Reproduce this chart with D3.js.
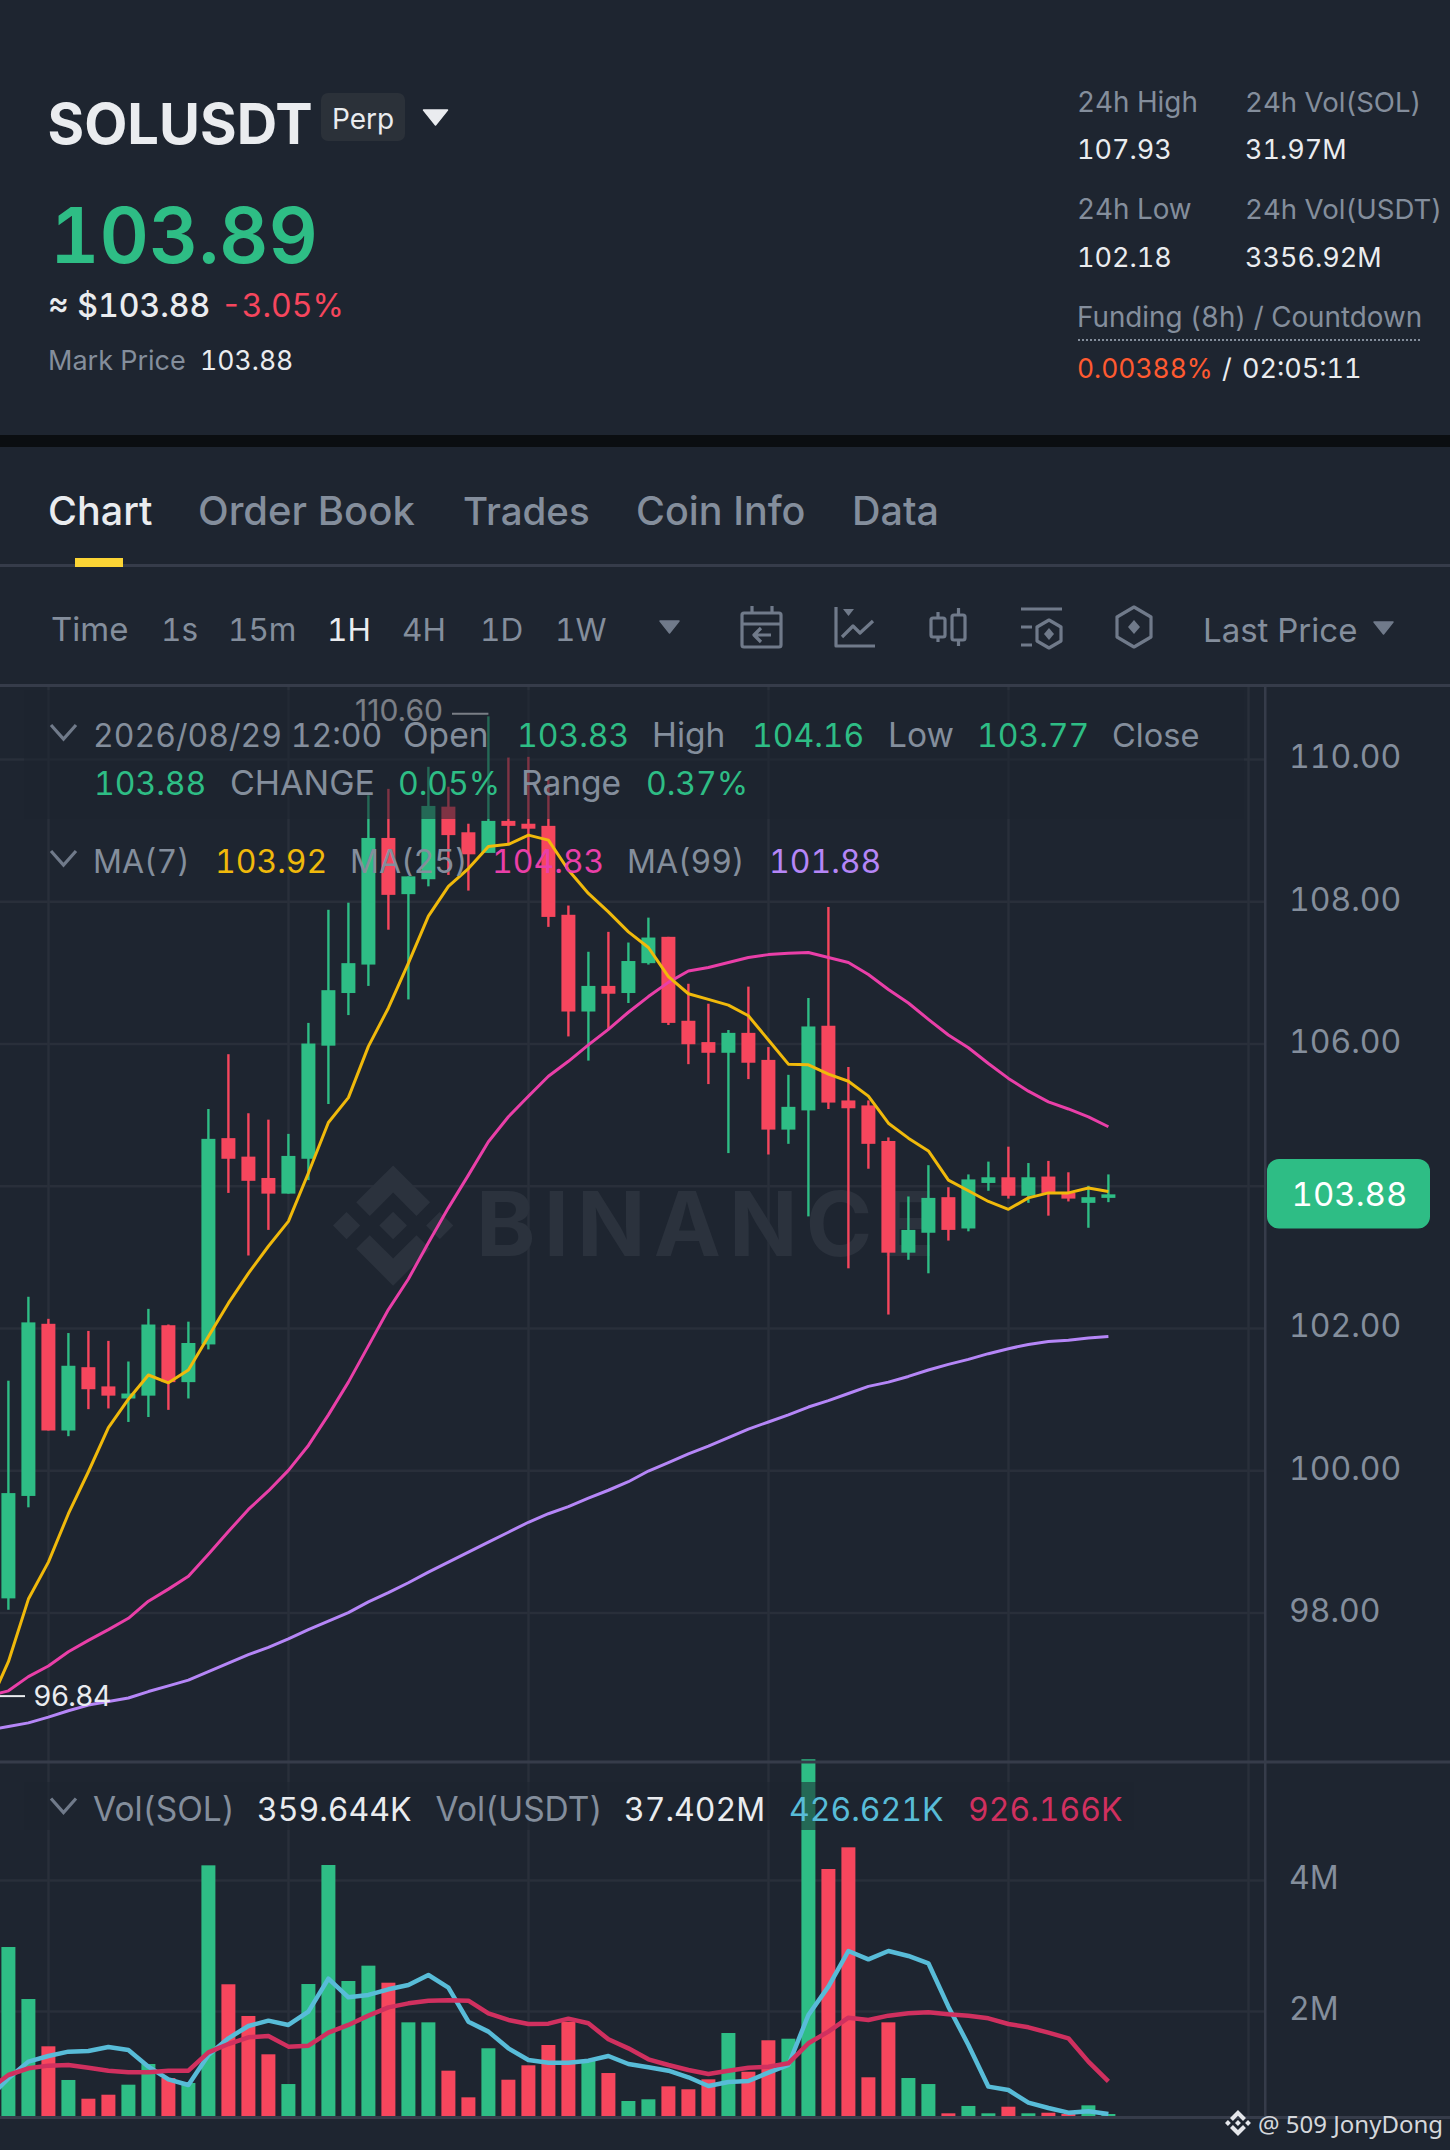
<!DOCTYPE html>
<html>
<head>
<meta charset="utf-8">
<script src="https://cdn.jsdelivr.net/npm/d3@7/dist/d3.min.js"></script>
<style>
html,body{margin:0;padding:0;background:#1e2530;}
svg{display:block;}
text{font-family:Inter,"Noto Sans",sans-serif;font-feature-settings:"tnum";}
</style>
</head>
<body>
<svg id="c" width="1450" height="2150"></svg>
<script>
const opens=[98.20,99.64,102.06,100.56,101.45,101.18,101.01,101.05,102.04,101.24,
101.77,104.67,104.41,104.11,103.89,104.38,105.97,106.71,107.11,108.89,
108.10,108.31,109.33,108.97,108.68,109.13,109.09,109.06,107.81,106.45,
106.81,106.71,107.13,107.50,106.32,106.02,105.87,106.15,105.77,104.79,
105.06,106.25,105.20,105.13,104.63,103.06,103.34,103.84,103.40,104.04,
104.12,103.86,104.13,103.90,103.76,103.83];
const closes=[99.68,102.08,100.56,101.47,101.14,101.05,101.08,102.05,101.24,101.79,
104.66,104.38,104.07,103.89,104.42,106.00,106.75,107.13,108.89,108.09,
108.35,109.34,108.93,108.66,109.13,109.06,109.02,107.78,106.45,106.81,
106.70,107.16,107.49,106.29,105.99,105.87,106.15,105.73,104.79,105.11,
106.24,105.17,105.09,104.59,103.06,103.38,103.83,103.38,104.09,104.12,
103.86,104.12,103.90,103.82,103.84,103.88];
const highs=[101.26,102.44,102.13,101.93,101.96,101.82,101.53,102.27,102.05,102.09,
105.08,105.85,105.02,104.93,104.73,106.29,107.88,107.98,109.49,109.58,
108.35,109.89,109.61,109.09,110.60,110.02,110.03,109.71,107.94,107.29,
107.57,107.42,107.77,107.50,106.84,106.56,106.19,106.80,105.95,105.56,
106.64,107.92,105.67,105.20,104.68,103.85,104.29,103.98,104.16,104.34,
104.55,104.32,104.35,104.19,104.00,104.16];
const lows=[98.04,99.48,100.56,100.48,100.86,100.87,100.68,100.75,100.85,101.01,
101.70,103.90,103.02,103.38,103.89,104.08,105.15,106.40,106.81,107.60,
106.62,108.21,108.37,108.15,108.68,108.79,108.68,107.64,106.10,105.76,
106.19,106.57,107.11,106.26,105.71,105.43,104.46,105.50,104.44,104.59,
103.57,105.08,102.84,104.24,102.19,102.96,102.77,103.23,103.36,103.93,
103.82,103.76,103.58,103.78,103.41,103.77];
const volumes=[2.977,2.183,1.461,0.947,0.661,0.722,0.875,1.191,0.977,0.901,
4.224,2.408,1.924,1.339,0.885,2.412,4.229,2.458,2.692,2.432,
1.827,1.827,1.089,0.682,1.431,0.951,1.171,1.481,1.837,1.252,
1.053,0.626,0.652,0.850,0.805,0.957,1.664,1.073,1.553,1.577,
5.843,4.168,4.499,0.988,1.827,0.977,0.885,0.438,0.550,0.438,
0.539,0.438,0.447,0.412,0.560,0.360];
// moving averages start one candle before the first visible one (index -1)
const ma7=[96.68,97.31,98.19,98.71,99.39,99.98,100.60,101.00,101.34,101.23,101.41,
101.88,102.35,102.77,103.15,103.50,104.18,104.89,105.24,105.96,106.50,
107.13,107.79,108.21,108.46,108.77,108.80,108.93,108.86,108.44,108.11,
107.85,107.57,107.35,106.94,106.70,106.62,106.54,106.39,106.05,105.71,
105.70,105.57,105.47,105.26,104.88,104.67,104.49,104.08,103.93,103.78,
103.67,103.83,103.90,103.90,103.97,103.92];
const ma25=[96.83,96.90,97.10,97.25,97.45,97.61,97.76,97.92,98.16,98.33,98.51,
98.82,99.14,99.45,99.71,100.00,100.35,100.78,101.24,101.75,102.26,
102.69,103.20,103.69,104.15,104.62,104.97,105.26,105.54,105.75,105.98,
106.20,106.44,106.66,106.86,107.02,107.07,107.14,107.21,107.25,107.27,
107.28,107.21,107.14,106.97,106.76,106.57,106.34,106.12,105.94,105.72,
105.51,105.33,105.18,105.08,104.97,104.83];
const ma99=[96.35,96.40,96.45,96.53,96.62,96.70,96.75,96.80,96.89,96.97,97.05,
97.17,97.29,97.41,97.51,97.63,97.76,97.88,98.00,98.15,98.28,
98.42,98.57,98.71,98.85,98.99,99.13,99.27,99.39,99.49,99.61,
99.72,99.84,99.99,100.11,100.23,100.34,100.46,100.58,100.68,100.78,
100.89,100.98,101.08,101.18,101.24,101.32,101.41,101.49,101.56,101.64,
101.71,101.77,101.81,101.83,101.86,101.88];
const volMa7=[0.667,0.972,1.227,1.313,1.379,1.390,1.451,1.405,1.150,0.957,0.870,
1.329,1.583,1.771,1.853,1.787,1.990,2.494,2.209,2.245,2.331,
2.397,2.550,2.357,1.837,1.685,1.430,1.252,1.211,1.211,1.242,
1.313,1.191,1.140,1.089,0.988,0.855,0.916,0.932,1.059,1.176,
1.939,2.372,2.916,2.789,2.916,2.840,2.728,2.066,1.481,0.845,
0.794,0.601,0.519,0.448,0.468,0.427];
const volMa25=[0.794,1.023,1.125,1.166,1.176,1.135,1.089,1.064,1.064,1.089,1.089,
1.369,1.496,1.598,1.619,1.456,1.471,1.669,1.787,1.929,2.056,
2.117,2.158,2.163,2.158,1.965,1.863,1.802,1.807,1.883,1.812,
1.568,1.430,1.262,1.176,1.100,1.038,1.089,1.135,1.150,1.201,
1.507,1.685,1.898,1.863,1.929,1.965,1.980,1.949,1.929,1.888,
1.802,1.751,1.669,1.583,1.227,0.926];
const priceGrid=[110,108,106,104,102,100,98];
const priceLabels=[110,108,106,102,100,98];
const volTicks=[4,2];
const timeLabels=["Time","1s","15m","1H","4H","1D","1W"];

const BG="#1e2530",UP="#2ebd85",DOWN="#f6465d",GRAY="#848e9c",WHITE="#eaecef",GRID="#292f3a",LINE="#363c4a",ICON="#707a8a";
const svg=d3.select("#c");
const x=d3.scaleLinear().domain([0,55]).range([8.4,1108.4]);
const y=d3.scaleLinear().domain([110,98]).range([759,1612.6]);
const vy=d3.scaleLinear().domain([0,4]).range([2142,1880]);
const VBASE=2117;

function T(s,tx,ty,size,fill,weight,anchor){
  return svg.append("text").attr("x",tx).attr("y",ty).attr("font-size",size).attr("fill",fill)
    .attr("font-weight",weight||400).attr("text-anchor",anchor||"start").text(s);
}
function tri(cx,top,w,h,fill){
  svg.append("path").attr("d",d3.line()([[cx-w/2,top],[cx+w/2,top],[cx,top+h]])+"Z").attr("fill",fill)
    .attr("stroke",fill).attr("stroke-width",1.5).attr("stroke-linejoin","round");
}
// ---------- header ----------
T("SOLUSDT",47.5,143.5,56,WHITE,700);
svg.append("rect").attr("x",321).attr("y",93).attr("width",84).attr("height",48).attr("rx",7).attr("fill","#2b3139");
T("Perp",332,128.5,28,WHITE,400);
tri(435.5,110,24,15,WHITE);
T("103.89",50,263,76.5,UP,600);
T("≈ $103.88",48,317,32,WHITE,500);
T("-3.05%",221,317,32,DOWN,400);
T("Mark Price",48,369.5,27,GRAY,400);
T("103.88",200,369.5,26.6,WHITE,400);
T("24h High",1077,111.5,27.8,GRAY);T("24h Vol(SOL)",1245,111.5,27.6,GRAY);
T("107.93",1077,159,27,WHITE);T("31.97M",1245,159,27,WHITE);
T("24h Low",1077,218.5,27.8,GRAY);T("24h Vol(USDT)",1245,218.5,27.6,GRAY);
T("102.18",1077,267,27,WHITE);T("3356.92M",1245,267,27,WHITE);
T("Funding (8h) / Countdown",1077,327,27.8,GRAY);
svg.append("line").attr("x1",1078).attr("x2",1422).attr("y1",340).attr("y2",340).attr("stroke",GRAY).attr("stroke-width",2).attr("stroke-dasharray","2 2");
T("0.00388%",1077,378,26.4,"#ff5a30");T("/",1222,378,27,WHITE);T("02:05:11",1242,378,27,WHITE);

svg.append("rect").attr("x",0).attr("y",435).attr("width",1450).attr("height",12).attr("fill","#0b0e11");

// ---------- tabs ----------
[["Chart",48,WHITE,500],["Order Book",198,GRAY,500],["Trades",463,GRAY,500],["Coin Info",636,GRAY,500],["Data",852,GRAY,500]]
  .forEach(d=>T(d[0],d[1],525,d[0]==="Order Book"?40:d[0]==="Trades"?38.5:39.5,d[2],d[3]));
svg.append("rect").attr("x",0).attr("y",564).attr("width",1450).attr("height",3).attr("fill",LINE);
svg.append("rect").attr("x",75).attr("y",558).attr("width",48).attr("height",9).attr("fill","#fcd535");

// ---------- toolbar ----------
[51,161,228,327,402,480,555].forEach((tx,i)=>T(timeLabels[i],tx,641,i===0?33:31.5,timeLabels[i]==="1H"?WHITE:GRAY,400));
tri(669.5,621,19,12,ICON);
const ic=svg.append("g").attr("fill","none").attr("stroke",ICON).attr("stroke-width",3.2).attr("stroke-linejoin","round");
ic.append("rect").attr("x",742).attr("y",613).attr("width",39).attr("height",34).attr("rx",2);
ic.append("path").attr("d","M752 606V613M772 606V613M742 624H781M771 635H755M761 628L754 635L761 642");
ic.append("path").attr("d","M836 607V646H875M842 637L853 626L860 633L873 621");
ic.append("path").attr("d","M843 609H854L848.5 616Z").attr("fill",ICON).attr("stroke","none");
ic.append("rect").attr("x",931).attr("y",618).attr("width",14).attr("height",19).attr("rx",2);
ic.append("rect").attr("x",952).attr("y",615).attr("width",13).attr("height",25).attr("rx",2);
ic.append("path").attr("d","M938 612V618M938 637V642M958.5 608V615M958.5 640V646");
ic.append("path").attr("d","M1021 609H1062M1021 627H1032M1021 645H1032M1049 620L1061 627V641L1049 648L1037 641V627Z");
ic.append("path").attr("d","M1049 628L1054 634L1049 640L1044 634Z").attr("fill",ICON).attr("stroke","none");
ic.append("path").attr("d","M1134 607L1151 617V637L1134 647L1117 637V617Z");
ic.append("path").attr("d","M1134 620L1140 627L1134 634L1128 627Z").attr("fill",ICON).attr("stroke","none");
T("Last Price",1203,641.5,33,GRAY,400);
tri(1383.5,622,19,12,ICON);
svg.append("rect").attr("x",0).attr("y",684).attr("width",1450).attr("height",3).attr("fill",LINE);

// ---------- grid (via d3 axes) ----------
const gridG=svg.append("g");
const yGrid=d3.axisRight(y).tickValues(priceGrid).tickSize(1265).tickFormat("");
gridG.append("g").call(yGrid).call(g=>{g.select(".domain").remove();g.selectAll("line").attr("stroke",GRID).attr("stroke-width",2.5);});
const vGrid=d3.axisRight(vy).tickValues(volTicks).tickSize(1265).tickFormat("");
gridG.append("g").call(vGrid).call(g=>{g.select(".domain").remove();g.selectAll("line").attr("stroke",GRID).attr("stroke-width",2.5);});
const gridXIdx=[2,14,26,38,50,62];
gridG.selectAll("line.vg").data(gridXIdx).join("line").attr("class","vg")
  .attr("x1",d=>x(d)+0.1).attr("x2",d=>x(d)+0.1).attr("y1",687).attr("y2",VBASE).attr("stroke",GRID).attr("stroke-width",2.5);

// ---------- Binance watermark ----------
const logoPath="M38.73,53.2,63.3,28.63,87.9,53.22l14.3-14.3L63.3,0,24.42,38.9Z M0,63.31l14.3-14.31,14.31,14.31L14.3,77.62Z M38.73,73.41,63.3,98l24.6-24.6,14.31,14.29-.01.01L63.3,126.61,24.42,87.73l-.02-.02Z M98,63.31l14.3-14.31,14.31,14.31L112.31,77.62Z M77.83,63.3h0L63.3,48.76,52.55,59.51h0l-1.23,1.24-2.55,2.55h0l0,0L63.3,77.85,77.84,63.31l0,0Z";
svg.append("path").attr("d",logoPath).attr("fill","#2b323d").attr("transform","translate(333,1165.4) scale(0.95)");
svg.append("text").attr("x",476).attr("y",1256).attr("font-size",90).attr("font-weight",700).attr("fill","#2b323d")
  .attr("textLength",459).attr("lengthAdjust","spacing").text("BINANCE");

// ---------- candles ----------
const candles=opens.map((o,i)=>({i,o,c:closes[i],h:highs[i],l:lows[i],v:volumes[i]}));
const col=d=>d.c>=d.o?UP:DOWN;
const cg=svg.append("g");
cg.selectAll("line").data(candles).join("line")
  .attr("x1",d=>x(d.i)).attr("x2",d=>x(d.i)).attr("y1",d=>y(d.h)).attr("y2",d=>y(d.l))
  .attr("stroke",col).attr("stroke-width",2.4);
cg.selectAll("rect").data(candles).join("rect")
  .attr("x",d=>x(d.i)-7).attr("width",14)
  .attr("y",d=>y(Math.max(d.o,d.c))).attr("height",d=>Math.max(2,Math.abs(y(d.o)-y(d.c))))
  .attr("fill",col);

// ---------- volume bars ----------
const vg=svg.append("g");
vg.selectAll("rect").data(candles).join("rect")
  .attr("x",d=>x(d.i)-7).attr("width",14)
  .attr("y",d=>Math.min(vy(d.v),VBASE-3)).attr("height",d=>VBASE-Math.min(vy(d.v),VBASE-3))
  .attr("fill",col);

// ---------- moving averages ----------
function maLine(vals,scale,color,w){
  const l=d3.line().x((d,i)=>x(i-1)).y(d=>scale(d));
  svg.append("path").attr("d",l(vals)).attr("fill","none").attr("stroke",color).attr("stroke-width",w).attr("stroke-linejoin","round");
}
maLine(ma99,y,"#b586f7",3);
maLine(ma25,y,"#e93fa8",3);
maLine(ma7,y,"#f0b90b",3);
maLine(volMa7,vy,"#58bcd8",4.5);
maLine(volMa25,vy,"#d0305f",4.5);

// high / low markers
T("110.60",355,720.5,30,WHITE).style("font-feature-settings","normal");
svg.append("line").attr("x1",452).attr("x2",x(24)).attr("y1",y(110.60)-2.5).attr("y2",y(110.60)-2.5).attr("stroke",WHITE).attr("stroke-width",2);
T("96.84",33.5,1705.8,28.5,WHITE).style("font-feature-settings","normal");
svg.append("line").attr("x1",0).attr("x2",25).attr("y1",y(96.84)+1).attr("y2",y(96.84)+1).attr("stroke",WHITE).attr("stroke-width",2);

// legend dimming
svg.append("rect").attr("x",24).attr("y",690).attr("width",1220).attr("height",129).attr("fill",BG).attr("opacity",0.55);
svg.append("rect").attr("x",24).attr("y",1782).attr("width",1110).attr("height",48).attr("fill",BG).attr("opacity",0.55);

// axes lines
svg.append("rect").attr("x",1264).attr("y",687).attr("width",2.5).attr("height",1430).attr("fill",LINE);
svg.append("rect").attr("x",0).attr("y",1760.5).attr("width",1450).attr("height",3).attr("fill",LINE);
svg.append("rect").attr("x",0).attr("y",2116).attr("width",1450).attr("height",3).attr("fill",LINE);

// axis labels through d3 axes
const yAxis=d3.axisRight(y).tickValues(priceLabels).tickSize(0).tickPadding(0).tickFormat(d3.format(".2f"));
svg.append("g").attr("transform","translate(1289,-1.5)").call(yAxis).call(g=>{g.select(".domain").remove();
  g.selectAll("text").attr("font-size",32).attr("fill",GRAY).attr("style","font-family:Inter");});
const vAxis=d3.axisRight(vy).tickValues(volTicks).tickSize(0).tickPadding(0).tickFormat(d=>d+"M");
svg.append("g").attr("transform","translate(1289,-1.5)").call(vAxis).call(g=>{g.select(".domain").remove();
  g.selectAll("text").attr("font-size",32).attr("fill",GRAY).attr("style","font-family:Inter");});

// price badge
svg.append("rect").attr("x",1267).attr("y",1159).attr("width",163).attr("height",69.5).attr("rx",12).attr("fill",UP);
T("103.88",1349.5,1206,33,"#ffffff",400,"middle");

// ---------- legends ----------
function chev(top){svg.append("path").attr("d",`M51 ${top}L63.5 ${top+14}L76 ${top}`).attr("fill","none").attr("stroke",ICON).attr("stroke-width",3.2);}
chev(725);chev(851);chev(1798.5);
const L=32,W=33.5;
T("2026/08/29 12:00",93,746.5,L,GRAY);T("Open",403,746.5,W,GRAY);T("103.83",517,746.5,L,UP);
T("High",652,746.5,W,GRAY);T("104.16",752,746.5,L,UP);T("Low",888,746.5,W,GRAY);T("103.77",977,746.5,L,UP);T("Close",1112,746.5,32.6,GRAY);
T("103.88",94,794.5,L,UP);T("CHANGE",230,794.5,W+0.5,GRAY);T("0.05%",398,794.5,L,UP);T("Range",521,794.5,W,GRAY);T("0.37%",646,794.5,L,UP);
T("MA(7)",93,872.5,L,GRAY);T("103.92",215,872.5,L,"#f0b90b");T("MA(25)",350,872.5,L,GRAY);T("104.83",492,872.5,L,"#e93fa8");T("MA(99)",627,872.5,L,GRAY);T("101.88",769,872.5,L,"#b586f7");
T("Vol(SOL)",93,1820.5,W,GRAY);T("359.644K",257,1820.5,L,WHITE);T("Vol(USDT)",435.5,1820.5,W,GRAY);T("37.402M",624,1820.5,L,WHITE);
T("426.621K",789,1820.5,L,"#58bcd8");T("926.166K",968,1820.5,L,"#d0305f");

// ---------- signature ----------
svg.append("path").attr("d",logoPath).attr("fill","#e4e6ea").attr("transform","translate(1225,2110) scale(0.205)");
T("@ 509 JonyDong",1258,2132.5,24,"#d5d8dc").attr("style","font-family:'Noto Sans'");
</script>
</body>
</html>
